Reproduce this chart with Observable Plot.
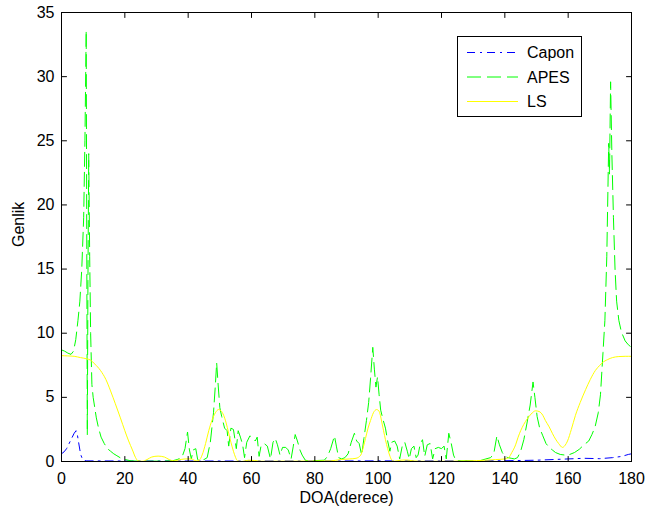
<!DOCTYPE html>
<html>
<head>
<meta charset="utf-8">
<script src="https://cdn.jsdelivr.net/npm/d3@7"></script>
<script src="https://cdn.jsdelivr.net/npm/@observablehq/plot@0.6"></script>
<style>
  html, body { margin: 0; padding: 0; background: #fff; }
  #wrap { position: relative; width: 645px; height: 512px; font-family: "Liberation Sans", Arial, Helvetica, sans-serif; }
  #legend { position: absolute; left: 457px; top: 36px; }
</style>
</head>
<body>
<div id="wrap"></div>
<script>
// ---- data ----
const xTicks = [0, 20, 40, 60, 80, 100, 120, 140, 160, 180];
const yTicks = [0, 5, 10, 15, 20, 25, 30, 35];
const seriesNames = ["Capon", "APES", "LS"];
const xLabel = "DOA(derece)";
const yLabel = "Genlik";

const caponDeg = [0, 0.8, 1.6, 2.4, 3.2, 4.0, 4.6, 5.0, 5.4, 5.8, 6.2, 6.6, 7.2, 8, 20, 40, 60, 80, 100, 120, 140, 150, 160, 165, 170, 174, 177, 179, 180];
const caponVal = [0.6, 0.75, 1.0, 1.4, 1.8, 2.2, 2.4, 2.1, 1.5, 0.9, 0.45, 0.2, 0.08, 0.05, 0.04, 0.04, 0.04, 0.04, 0.05, 0.05, 0.06, 0.1, 0.2, 0.25, 0.22, 0.3, 0.4, 0.55, 0.6];

const apesDeg = [0, 1, 2, 3, 3.8, 4.5, 5.2, 5.8, 6.4, 7.0, 7.4, 7.8, 8.0, 8.15, 8.35, 8.6, 8.9, 9.2, 9.6, 10, 10.5, 11, 11.7, 12.5, 13.5, 14.5, 15.5, 16.5, 17.5, 18.5, 19.5, 21, 22, 25, 30, 35, 36.5, 38, 39, 39.8, 40.4, 41, 41.6, 42.4, 43, 44, 45, 46, 47, 48, 48.6, 49.0, 49.4, 50, 50.6, 51.5, 52.3, 52.8, 53.5, 54.3, 55.2, 55.8, 56.5, 57.2, 57.8, 58.5, 59.5, 60.5, 61.2, 61.8, 62.4, 63, 64, 65, 66, 66.8, 67.5, 68.2, 69, 69.8, 70.8, 71.6, 72.5, 73.2, 73.8, 74.5, 75.3, 76, 77, 78, 83, 84, 85, 86.2, 86.8, 87.5, 88.5, 89.5, 90.5, 91.5, 92.5, 93.2, 94, 94.8, 95.5, 96.3, 97, 97.6, 98.3, 98.8, 99.3, 99.8, 100.3, 100.8, 101.5, 102.3, 103, 103.7, 104.3, 105.2, 106, 106.8, 107.6, 108.4, 109.2, 109.8, 110.5, 111.3, 112, 112.6, 113.3, 114, 114.7, 115.5, 116.4, 117.2, 118, 119, 120, 120.8, 121.5, 122.3, 123, 123.8, 124.5, 126, 132, 134, 135.5, 136.5, 137.5, 138.3, 139.2, 140, 141, 142, 143, 144, 145, 146, 147, 148, 148.9, 149.5, 150.2, 151, 152, 153, 154, 155, 156, 157.5, 159, 160.5, 162, 163.5, 165, 166.5, 167.5, 168.5, 169.5, 170.2, 171, 171.6, 172.2, 172.8, 173.05, 173.4, 173.8, 174.3, 174.8, 175.3, 176, 176.8, 178, 179, 180];
const apesVal = [8.7, 8.6, 8.45, 8.35, 8.6, 9.5, 11, 12.5, 15, 19, 25, 33.6, 15, 2.1, 14, 24, 16, 10, 6, 5, 4.2, 3.4, 2.6, 1.9, 1.4, 1.0, 0.8, 0.6, 0.45, 0.3, 0.2, 0.1, 0.05, 0.02, 0.03, 0.05, 0.15, 0.3, 1.0, 2.3, 0.9, 0.2, 0.9, 1.0, 0.15, 0.1, 0.15, 0.3, 1.5, 3.8, 6.0, 7.7, 6.2, 4.2, 3.5, 2.6, 2.4, 1.2, 2.6, 2.5, 1.0, 2.4, 1.9, 1.3, 0.3, 1.5, 2.0, 1.8, 1.6, 1.9, 0.4, 1.2, 1.4, 1.2, 0.2, 1.5, 1.8, 1.3, 0.5, 1.1, 1.1, 0.9, 0.2, 1.2, 2.1, 1.6, 0.9, 0.5, 0.1, 0.05, 0.1, 0.4, 1.0, 2.0, 1.2, 0.3, 0.2, 0.3, 0.6, 1.5, 2.2, 1.6, 1.4, 0.5, 1.8, 3.2, 4.6, 6.5, 8.9, 7.2, 5.8, 6.6, 5.2, 4.0, 3.3, 2.6, 1.6, 0.8, 1.5, 1.6, 1.2, 0.2, 1.2, 1.5, 0.8, 0.2, 1.0, 1.2, 0.3, 0.5, 1.4, 1.7, 0.4, 1.3, 1.4, 0.2, 1.0, 1.1, 1.0, 1.2, 0.2, 2.2, 1.5, 0.5, 0.1, 0.05, 0.05, 0.2, 0.3, 0.6, 2.0, 1.3, 0.7, 0.4, 0.3, 0.25, 0.2, 0.3, 0.8, 1.7, 3.0, 4.4, 6.2, 5.0, 3.5, 2.6, 2.0, 1.4, 1.1, 0.9, 0.7, 0.55, 0.5, 0.55, 0.7, 0.95, 1.3, 1.6, 2.1, 2.7, 3.8, 5.2, 8.5, 11, 16, 24.8, 22.4, 29.6, 24, 19, 15, 12.5, 11, 10.1, 9.4, 9.1, 8.9];

const lsDeg = [0, 2, 4, 6, 8, 9.2, 10.5, 12.3, 14, 15.5, 17, 18.6, 20, 21.2, 22.4, 23.4, 24.2, 25.5, 27, 28.5, 30.5, 32.5, 34, 35.5, 37, 39, 41, 42.5, 43.5, 44.4, 45.5, 46.5, 47.5, 48.6, 49.6, 50.4, 51.2, 52, 52.7, 53.5, 54.3, 55, 55.6, 57, 59, 61, 63, 85, 88, 91, 93, 94.5, 95.4, 96, 96.8, 97.6, 98.5, 99.5, 100.2, 100.7, 101.2, 101.7, 102.3, 103, 103.6, 104.2, 105, 107, 109, 111, 114, 120, 128, 134, 137, 140, 141.2, 142.2, 143.4, 144.2, 145, 146, 147, 148.3, 149.7, 150.8, 152, 152.8, 154, 155, 156, 157, 158.2, 159, 159.8, 161, 162.3, 163.8, 165.5, 167, 168.6, 170, 170.8, 172.5, 174, 176, 178, 180];
const lsVal = [8.25, 8.23, 8.2, 8.1, 8.0, 7.9, 7.6, 7.1, 6.4, 5.5, 4.5, 3.4, 2.4, 1.6, 0.9, 0.3, 0.05, 0.02, 0.15, 0.35, 0.42, 0.35, 0.15, 0.05, 0.12, 0.2, 0.2, 0.05, 0.1, 0.5, 1.4, 2.4, 3.2, 3.8, 4.05, 3.95, 3.6, 3.0, 2.3, 1.5, 0.8, 0.3, 0.05, 0.0, 0.1, 0.08, 0.02, 0.05, 0.15, 0.2, 0.25, 0.5, 1.2, 1.8, 2.6, 3.2, 3.8, 4.05, 3.95, 3.6, 3.0, 2.4, 1.7, 1.0, 0.5, 0.15, 0.02, 0.1, 0.12, 0.05, 0.02, 0.02, 0.05, 0.1, 0.15, 0.2, 0.3, 0.7, 1.3, 1.9, 2.4, 2.9, 3.3, 3.7, 3.95, 3.9, 3.6, 3.2, 2.7, 2.2, 1.75, 1.4, 1.1, 1.25, 1.6, 2.5, 3.6, 4.6, 5.6, 6.4, 7.1, 7.5, 7.7, 7.95, 8.1, 8.18, 8.2, 8.2];

// ---- build ----
const rows = (xs, ys) => xs.map((x, i) => ({x, y: ys[i]}));
const caponRows = rows(caponDeg, caponVal);
const apesRows = rows(apesDeg, apesVal);
const lsRows = rows(lsDeg, lsVal);

const colors = {Capon: "#0000ff", APES: "#00ff00", LS: "#ffff00"};
const dashes = {Capon: "8,5,2,5", APES: "14,6", LS: null};

const inTick = {draw(ctx, l) { ctx.moveTo(0, 0); ctx.lineTo(0, -l); }};
const tickOpts = {length: 5, anchor: "start", shape: inTick, stroke: "#000", strokeWidth: 1};

const chart = Plot.plot({
  width: 645,
  height: 512,
  marginLeft: 61,
  marginRight: 14,
  marginTop: 12,
  marginBottom: 51,
  x: {domain: [0, 180]},
  y: {domain: [0, 35]},
  style: {fontFamily: '"Liberation Sans", Arial, Helvetica, sans-serif', fontSize: "16px", color: "#000", background: "#fff", overflow: "visible"},
  marks: [
    Plot.line(caponRows, {x: "x", y: "y", stroke: colors.Capon, strokeWidth: 1, strokeDasharray: dashes.Capon, clip: true}),
    Plot.line(apesRows, {x: "x", y: "y", stroke: colors.APES, strokeWidth: 1, strokeDasharray: dashes.APES, clip: true}),
    Plot.line(lsRows, {x: "x", y: "y", stroke: colors.LS, strokeWidth: 1, curve: "monotone-x", clip: true}),
    Plot.frame({stroke: "#000", strokeWidth: 1}),
    Plot.vector(xTicks, {x: d => d, frameAnchor: "bottom", rotate: 0, ...tickOpts}),
    Plot.vector(xTicks, {x: d => d, frameAnchor: "top", rotate: 180, ...tickOpts}),
    Plot.vector(yTicks, {y: d => d, frameAnchor: "left", rotate: 90, ...tickOpts}),
    Plot.vector(yTicks, {y: d => d, frameAnchor: "right", rotate: -90, ...tickOpts}),
    Plot.axisX({ticks: xTicks, tickSize: 0, tickPadding: 11, tickFormat: d => String(d), fontSize: 16, label: null}),
    Plot.axisY({ticks: yTicks, tickSize: 0, tickPadding: 7, tickFormat: d => String(d), fontSize: 16, label: null}),
    Plot.text([xLabel], {text: d => d, frameAnchor: "bottom", dy: 41, fontSize: 16, fill: "#000"}),
    Plot.text([yLabel], {text: d => d, frameAnchor: "left", dx: -43, dy: 10, rotate: -90, fontSize: 16, fill: "#000"})
  ]
});

const wrap = document.getElementById("wrap");
wrap.appendChild(chart);

// ---- legend (overlay inside the axes, top-right) ----
const ns = "http://www.w3.org/2000/svg";
const leg = document.createElementNS(ns, "svg");
leg.setAttribute("id", "legend");
leg.setAttribute("width", 126);
leg.setAttribute("height", 82);
const box = document.createElementNS(ns, "rect");
box.setAttribute("x", 0.5); box.setAttribute("y", 0.5);
box.setAttribute("width", 124); box.setAttribute("height", 80);
box.setAttribute("fill", "#fff"); box.setAttribute("stroke", "#000");
leg.appendChild(box);
seriesNames.forEach((name, i) => {
  const cy = 16.5 + i * 24.5;
  const ln = document.createElementNS(ns, "line");
  ln.setAttribute("x1", 10); ln.setAttribute("x2", 61);
  ln.setAttribute("y1", cy); ln.setAttribute("y2", cy);
  ln.setAttribute("stroke", colors[name]);
  ln.setAttribute("stroke-width", 1);
  if (dashes[name]) ln.setAttribute("stroke-dasharray", dashes[name]);
  leg.appendChild(ln);
  const tx = document.createElementNS(ns, "text");
  tx.setAttribute("x", 70); tx.setAttribute("y", cy + 5.8);
  tx.setAttribute("font-size", 16);
  tx.setAttribute("font-family", '"Liberation Sans", Arial, Helvetica, sans-serif');
  tx.setAttribute("fill", "#000");
  tx.textContent = name;
  leg.appendChild(tx);
});
wrap.appendChild(leg);
</script>
</body>
</html>
